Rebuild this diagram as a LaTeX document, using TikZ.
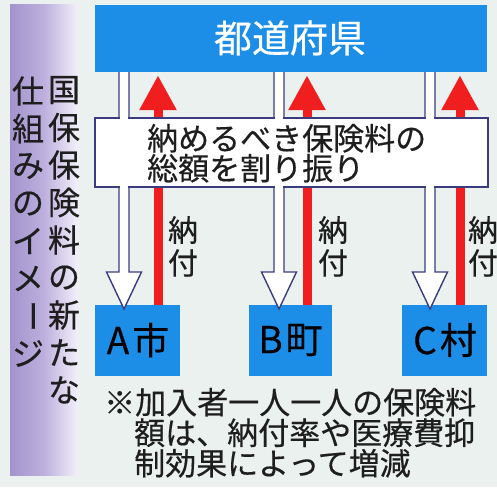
\documentclass[tikz,border=0pt]{standalone}
\usepackage{fontspec}
\usepackage{graphicx}
\setmainfont[FakeBold=0.4]{Noto Sans CJK JP}
\usetikzlibrary{arrows.meta}
\definecolor{bg}{HTML}{EAF1EF}
\definecolor{bandpurple}{HTML}{A393CD}
\definecolor{bandmid}{HTML}{BDB0DE}
\definecolor{bandright}{HTML}{F3F0FA}
\definecolor{boxblue}{HTML}{1C8EE8}
\definecolor{navy}{HTML}{3B3C7E}
\definecolor{arrred}{HTML}{F01E1E}
\definecolor{ink}{HTML}{1E1E1E}
\begin{document}
\begin{tikzpicture}[x=1pt,y=-1pt,
  bluebox/.style={fill=boxblue,draw=none,inner sep=0pt},
  whitebox/.style={fill=white,draw=navy,line width=1.4pt,inner sep=0pt},
  redarr/.style={draw=arrred,line width=9pt,-{Triangle[width=35pt,length=35pt]}},
  hollow/.style={fill=white,draw=navy,line width=1.4pt,line join=miter},
  vchar/.style={inner sep=0pt,text=ink,font=\fontsize{32}{32}\selectfont},
  txt/.style={inner sep=0pt,text=ink,font=\fontsize{31}{31}\selectfont},
  citytxt/.style={inner sep=0pt,text=black,font=\fontsize{37}{37}\selectfont}]
\useasboundingbox (0,0) rectangle (497,487);
\fill[bg] (0,0) rectangle (497,487);
% left band
\shade[left color=bandpurple,right color=bandright,middle color=bandmid] (10,5) rectangle (78,475);
% vertical title
\foreach \c [count=\i from 0] in {国,保,保,険,料,の,新,た,な}
  \node[vchar] (r\i) at (64,{90+37.5*\i}) {\c};
\foreach \c [count=\i from 0] in {仕,組,み,の,イ,メ,{\rotatebox[origin=c]{-90}{ー}},ジ}
  \node[vchar] (l\i) at (28,{91+37.5*\i}) {\c};
% top box
\node[bluebox,minimum width=392pt,minimum height=67pt] (pref) at (291,38.5) {};
\node[inner sep=0pt,text=white,font=\fontsize{38}{38}\selectfont] (preftxt) at (290,38) {都道府県};
% city boxes
\node[bluebox,minimum width=85pt,minimum height=71pt] (A) at (137.5,340.5) {};
\node[bluebox,minimum width=83pt,minimum height=71pt] (B) at (290.5,340.5) {};
\node[bluebox,minimum width=85pt,minimum height=71pt] (C) at (444.5,340.5) {};
\node[citytxt] (At) at (138,340) {A\hspace{3pt}市};
\node[citytxt] (Bt) at (290.5,340) {B\hspace{3pt}町};
\node[citytxt] (Ct) at (445,340) {C\hspace{3pt}村};
% red arrows
\draw[redarr] ([xshift=20.5pt]A.north) -- ([xshift=20.5pt,yshift=-3pt]A.north |- pref.south);
\draw[redarr] ([xshift=16.5pt]B.north) -- ([xshift=16.5pt,yshift=-3pt]B.north |- pref.south);
\draw[redarr] ([xshift=15.5pt]C.north) -- ([xshift=15.5pt,yshift=-3pt]C.north |- pref.south);
% hollow arrows
\foreach \cx in {124,279,430}
  \draw[hollow] (\cx-5,72) -- (\cx-5,272) -- (\cx-17.5,272) -- (\cx,309) -- (\cx+17.5,272) -- (\cx+5,272) -- (\cx+5,72);
% middle box
\node[whitebox,minimum width=393pt,minimum height=69pt] (mid) at (291.5,152.5) {};
\foreach \cx in {124,279,430} {
  \fill[white] (\cx-4.2,116) rectangle (\cx+4.2,120.5);
  \fill[white] (\cx-4.2,184.5) rectangle (\cx+4.2,189);
}
\node[txt,anchor=base west] (m1) at (147,150) {納めるべき保険料の};
\node[txt,anchor=base west] (m2) at (147,180) {総額を割り振り};
% payment labels
\foreach \lx/\n in {183/a,333/b,483/c} {
  \node[txt,font=\fontsize{30}{30}\selectfont] (n\n) at (\lx,230) {納};
  \node[txt,font=\fontsize{30}{30}\selectfont] (f\n) at (\lx,263) {付};
}
% note
\node[txt,anchor=base west] (note1) at (104,414) {※加入者一人一人の保険料};
\node[txt,anchor=base west] (note2) at (134,444.5) {額は、納付率や医療費抑};
\node[txt,anchor=base west] (note3) at (134,475) {制効果によって増減};
\end{tikzpicture}
\end{document}
